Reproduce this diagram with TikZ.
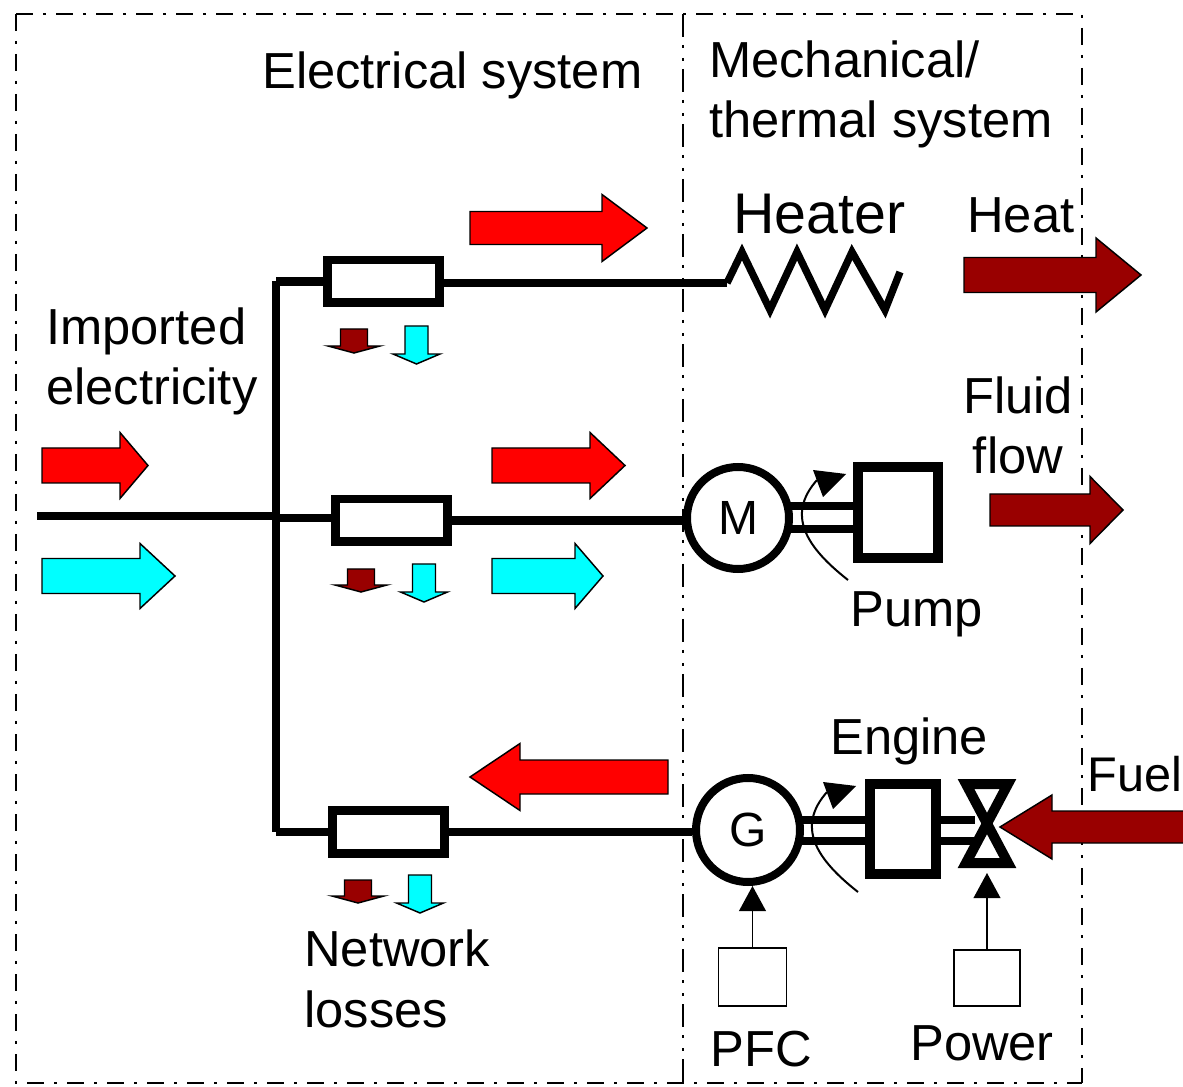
\documentclass[tikz,border=0pt]{standalone}
\usepackage{fontspec}
\setmainfont{Liberation Sans}
\usetikzlibrary{arrows.meta}

\definecolor{heatred}{RGB}{153,0,0}
\definecolor{flowred}{RGB}{255,0,0}
\definecolor{flowcyan}{RGB}{0,255,255}
\newcommand{\harrow}[7]{\draw [thin flow, fill=#1] (#2,#5-#6) -- (#3,#5-#6) -- (#3,#5-#7) -- (#4,#5) -- (#3,#5+#7) -- (#3,#5+#6) -- (#2,#5+#6) -- cycle;}
\newcommand{\varrow}[7]{\draw [thin flow, fill=#1] (#5-#6,#2) -- (#5-#6,#3) -- (#5-#7,#3) -- (#5,#4) -- (#5+#7,#3) -- (#5+#6,#3) -- (#5+#6,#2) -- cycle;}

\tikzset{
  thin flow/.style={draw=black, line width=1.1pt, line join=miter},
  frameline/.style={line width=1.6pt, dash pattern=on 12.75pt off 7.5pt on 2.25pt off 7.5pt},
  splitline/.style={line width=1.3pt, dash pattern=on 17.25pt off 6pt on 2.25pt off 7.5pt on 2.25pt off 6pt},
  bus/.style={line width=6.5pt},
  wire/.style={line width=6.5pt},
  shaft/.style={line width=6pt},
  resistor/.style={draw, line width=6.5pt, fill=white, minimum width=84pt, minimum height=32pt, inner sep=0pt},
  machine/.style={draw, circle, line width=6pt, fill=white, inner sep=0pt, font=\fontsize{36}{40}\selectfont},
  massbox/.style={draw, line width=7.5pt, fill=white, inner sep=0pt},
  ctrlbox/.style={draw, line width=1.3pt, fill=white, inner sep=0pt},
  ctrlarrow/.style={line width=1.3pt, -{Triangle[length=18.75pt,width=20pt]}},
  label/.style={inner sep=0pt, font=\fontsize{38}{45.5}\selectfont},
  pics/speedarc/.style={code={
    \draw [line width=1.5pt] (0,0) .. controls (-42,-33) and (-62,-65) .. (-31,-100);
    \fill (-35,-110) -- (-2,-106) -- (-25,-83) -- cycle;
  }}
}

\begin{document}
\begin{tikzpicture}[x=0.75pt,y=0.75pt,yscale=-1,xscale=1]
\useasboundingbox (0,0) rectangle (1183,1087);

% Frame
\draw [frameline] (16,14) -- (1082,14) -- (1082,1083);
\draw [frameline] (16,14) -- (16,1083) -- (1082,1083);
\draw [splitline] (683,14) -- (683,1083);

% Flow arrows
\harrow{flowred}{470}{602}{647}{228}{16.5}{33.5}
\harrow{heatred}{964}{1096}{1141}{275}{17.5}{37}
\harrow{flowred}{42}{120}{148}{465.5}{17.5}{33}
\harrow{flowcyan}{42}{140}{175}{576}{17.5}{32.5}
\harrow{flowred}{492}{590}{625}{465.5}{17.5}{33}
\harrow{flowcyan}{492}{575}{603}{576}{17.5}{32.5}
\harrow{heatred}{990}{1090}{1123}{510}{16}{33.5}
\harrow{flowred}{668}{520}{470}{777}{17}{33.5}
\harrow{heatred}{1190}{1052}{1000}{827}{16}{32}

% Loss arrows
\varrow{heatred}{329}{346}{353}{354}{13.5}{26}
\varrow{flowcyan}{326}{354}{364}{416.5}{11.5}{23.5}
\varrow{heatred}{569}{585}{592}{361}{13.5}{26}
\varrow{flowcyan}{564}{592}{602}{424}{11.5}{23.5}
\varrow{heatred}{880}{896}{903}{358}{13.5}{26}
\varrow{flowcyan}{875}{903}{913}{420}{11.5}{23.5}

% Network
\node (rone) [resistor] at (383.5,281.5) {};
\node (rtwo) [resistor] at (391.5,520.5) {};
\node (rthree) [resistor] at (388.5,832) {};
\node (motor) [machine, minimum size=76.5pt] at (738,518) {M};
\node (gen) [machine, minimum size=78pt] at (748,830) {G};
\coordinate (feed) at (37,516);
\coordinate (bustop) at (276,281.5);
\coordinate (busmid) at (276,518);
\coordinate (busbot) at (276,832);
\coordinate (heatin) at (727,283);

\draw [bus, line cap=square] (bustop) -- (busbot);
\draw [bus] (bustop) -- (rone.west);
\draw [bus] (feed) -- (feed -| busmid);
\draw [bus] (busmid) -- (busmid -| rtwo.west);
\draw [bus] (busbot) -- (rthree.west);
\draw [bus] (rone.east |- heatin) -- (heatin);
\draw [wire] (rtwo.east) -- (rtwo.east -| motor.west);
\draw [wire] (rthree.east) -- (rthree.east -| gen.west);

% Heater
\draw [line width=5.5pt, line join=miter] (heatin) -- (742,252) -- (770,310) -- (797,252) -- (825,310) -- (852,252) -- (885,310) -- (900,272);

% Pump
\node (pump) [massbox, minimum width=60pt, minimum height=68pt] at (898,512.5) {};
\coordinate (pumpa) at (790,506);
\coordinate (pumpb) at (790,529);
\draw [shaft] (pumpa) -- (pumpa -| pump.west);
\draw [shaft] (pumpb) -- (pumpb -| pump.west);
\pic [transform shape] at (848,580) {speedarc};

% Engine
\node (engine) [massbox, minimum width=49pt, minimum height=68pt] at (903,829) {};
\coordinate (engina) at (800,820);
\coordinate (enginb) at (800,841);
\coordinate (valvea) at (975,820);
\coordinate (valveb) at (975,841);
\draw [shaft] (engina) -- (engina -| engine.west);
\draw [shaft] (enginb) -- (enginb -| engine.west);
\draw [shaft] (engine.east |- valvea) -- (valvea);
\draw [shaft] (engine.east |- valveb) -- (valveb);
\pic [transform shape] at (858,892) {speedarc};
\draw [line width=7.5pt, line join=miter] (966,784) -- (1008,784) -- (966,863) -- (1008,863) -- cycle;

% Control boxes
\node (pfcbox) [ctrlbox, minimum width=51pt, minimum height=44pt] at (752.5,977) {};
\node (powerbox) [ctrlbox, minimum width=50pt, minimum height=42.5pt] at (987,978) {};
\coordinate (valvetip) at (987,873);
\draw [ctrlarrow] (pfcbox.north) -- (pfcbox.north |- gen.south);
\draw [ctrlarrow] (powerbox.north) -- (valvetip);

% Text Node
\node (elec) [label, anchor=base west] at (262,89) {Electrical system};
\node (mech) [label, anchor=base west, align=left] at (709,138) {Mechanical/\\thermal system};
\node (heater) [label, anchor=base west, font=\fontsize{43}{50}\selectfont] at (733,234) {Heater};
\node (heat) [label, anchor=base west] at (967,233) {Heat};
\node (fluid) [label, anchor=base, align=center] at (1018,474) {Fluid\\flow};
\node (imported) [label, anchor=base west, align=left] at (46,405) {Imported\\electricity};
\node (pumptxt) [label, anchor=base west] at (850,627) {Pump};
\node (enginetxt) [label, anchor=base west] at (830,754) {Engine};
\node (fuel) [label, anchor=base west, font=\fontsize{36.5}{44}\selectfont] at (1087,791) {Fuel};
\node (losses) [label, anchor=base west, align=left] at (304,1027) {Network\\losses};
\node (pfc) [label, anchor=base west] at (710,1066) {PFC};
\node (power) [label, anchor=base west] at (910,1060) {Power};
\end{tikzpicture}
\end{document}
